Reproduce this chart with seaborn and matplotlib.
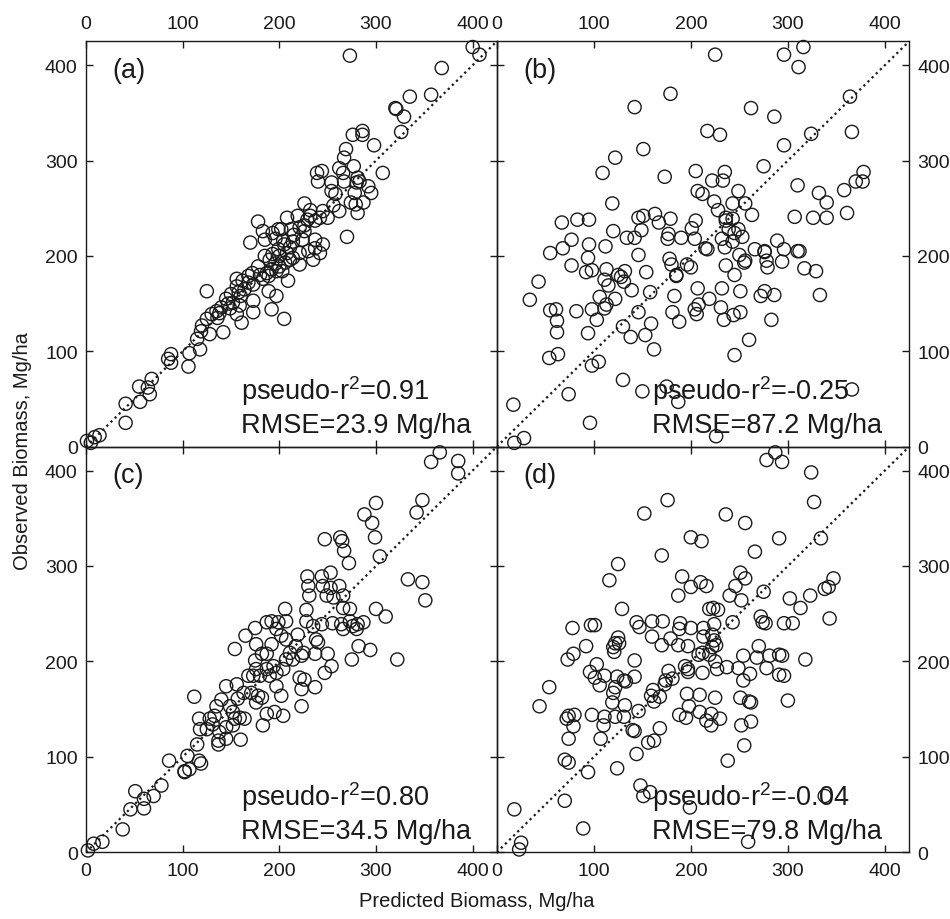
import pandas as pd
import matplotlib
matplotlib.use("Agg")
import matplotlib.pyplot as plt
import seaborn as sns

# ---- data: (predicted, observed) biomass in Mg/ha for four models ----
pts_a = [(400, 419), (407, 411), (273, 410), (368, 397), (357, 369), (335, 367), (320, 355),
         (321, 354), (329, 346), (326, 330), (286, 331), (276, 327), (286, 327), (298, 316),
         (269, 312), (267, 303), (277, 294), (307, 287), (239, 287), (244, 289), (240, 278),
         (266, 287), (267, 278), (254, 277), (254, 268), (281, 282), (280, 277), (283, 278),
         (292, 273), (295, 266), (278, 266), (274, 256), (279, 254), (287, 256), (281, 245),
         (262, 247), (256, 253), (270, 220), (250, 240), (242, 240), (229, 238), (226, 255),
         (219, 242), (232, 242), (237, 237), (208, 240), (221, 230), (212, 228), (199, 228),
         (193, 224), (178, 236), (183, 226), (185, 217), (170, 214), (196, 218), (204, 216),
         (214, 215), (224, 217), (237, 217), (211, 209), (199, 207), (193, 202), (200, 200),
         (208, 203), (221, 203), (237, 208), (242, 203), (235, 196), (221, 191), (211, 196),
         (206, 193), (200, 189), (197, 184), (192, 186), (187, 182), (183, 176), (189, 179),
         (203, 184), (209, 174), (178, 189), (172, 182), (168, 179), (162, 174), (156, 176),
         (173, 170), (164, 165), (156, 168), (150, 160), (158, 162), (145, 155), (152, 151),
         (159, 148), (149, 145), (140, 146), (135, 142), (130, 139), (125, 134), (136, 135),
         (156, 139), (161, 130), (173, 141), (173, 153), (189, 163), (197, 158), (192, 144),
         (205, 134), (125, 163), (120, 127), (119, 121), (128, 118), (142, 120), (115, 113),
         (118, 102), (107, 98), (106, 84), (88, 97), (85, 92), (88, 88), (68, 71), (55, 63),
         (64, 62), (66, 55), (56, 47), (41, 45), (41, 25), (14, 12), (9, 10), (1, 6), (5, 4),
         (205, 212), (215, 222), (226, 232), (190, 196), (180, 180), (196, 192), (214, 198),
         (226, 226), (245, 247), (232, 248), (160, 158), (147, 150), (138, 140), (168, 172),
         (185, 200), (202, 228), (230, 205), (245, 212), (258, 265), (262, 292)]

pts_b = [(225, 411), (296, 411), (316, 419), (311, 398), (179, 370), (364, 367), (142, 356),
         (262, 355), (286, 346), (217, 331), (230, 327), (324, 328), (366, 330), (151, 312),
         (296, 316), (122, 303), (109, 287), (173, 283), (205, 289), (275, 294), (235, 288),
         (222, 279), (233, 279), (378, 288), (370, 278), (377, 278), (310, 274), (207, 268),
         (212, 265), (249, 268), (332, 266), (358, 269), (340, 256), (224, 257), (243, 255),
         (256, 255), (119, 255), (228, 248), (263, 243), (307, 241), (326, 240), (340, 240),
         (361, 245), (236, 240), (243, 239), (236, 237), (146, 240), (151, 242), (163, 244),
         (167, 235), (179, 239), (205, 237), (201, 229), (67, 235), (83, 238), (95, 238),
         (120, 226), (149, 227), (134, 219), (142, 219), (177, 223), (176, 218), (190, 219),
         (204, 218), (232, 218), (243, 215), (253, 220), (249, 228), (239, 228), (245, 224),
         (235, 209), (217, 207), (215, 208), (77, 217), (68, 208), (55, 203), (95, 212),
         (112, 210), (146, 201), (94, 198), (77, 190), (92, 183), (98, 185), (113, 186),
         (125, 180), (132, 184), (128, 178), (131, 173), (111, 175), (115, 169), (139, 164),
         (154, 183), (178, 197), (180, 191), (185, 180), (185, 179), (196, 191), (200, 188),
         (250, 201), (255, 193), (256, 195), (236, 190), (245, 180), (266, 207), (276, 204),
         (276, 205), (289, 216), (296, 207), (310, 205), (312, 205), (278, 195), (279, 188),
         (294, 194), (317, 187), (329, 184), (43, 173), (34, 154), (55, 143), (61, 144),
         (62, 132), (62, 120), (54, 93), (63, 97), (82, 142), (98, 144), (103, 133), (94, 119),
         (106, 157), (111, 145), (113, 149), (122, 155), (146, 141), (130, 126), (138, 115),
         (153, 117), (159, 129), (162, 102), (158, 162), (183, 158), (181, 141), (188, 131),
         (207, 166), (208, 149), (204, 144), (206, 139), (219, 155), (232, 166), (231, 146),
         (234, 133), (244, 138), (251, 141), (251, 163), (272, 158), (276, 163), (286, 159),
         (283, 133), (245, 96), (260, 112), (333, 159), (98, 85), (105, 89), (130, 70), (74, 55),
         (17, 44), (150, 58), (175, 63), (187, 47), (366, 60), (96, 25), (28, 9), (18, 4),
         (226, 11)]

pts_c = [(366, 419), (357, 409), (385, 410), (385, 397), (348, 369), (342, 356), (300, 366),
         (288, 354), (296, 345), (299, 330), (304, 310), (247, 328), (263, 330), (265, 326),
         (267, 316), (272, 303), (333, 286), (348, 283), (351, 264), (300, 255), (310, 247),
         (322, 202), (294, 212), (282, 216), (275, 202), (229, 289), (230, 279), (231, 269),
         (228, 254), (244, 289), (253, 293), (245, 279), (253, 277), (249, 269), (256, 267),
         (262, 279), (266, 269), (266, 256), (273, 255), (264, 239), (266, 234), (273, 242),
         (276, 237), (281, 239), (287, 241), (280, 234), (255, 240), (244, 239), (235, 237),
         (228, 242), (238, 223), (240, 220), (237, 208), (250, 208), (254, 195), (247, 188),
         (237, 173), (223, 171), (223, 153), (226, 181), (221, 183), (223, 206), (225, 209),
         (217, 216), (219, 228), (207, 242), (206, 255), (199, 241), (192, 242), (187, 241),
         (197, 234), (202, 227), (207, 223), (211, 209), (214, 202), (207, 202), (204, 192),
         (197, 188), (194, 195), (187, 192), (190, 185), (180, 185), (176, 192), (173, 185),
         (168, 185), (175, 201), (182, 208), (187, 208), (192, 218), (176, 218), (165, 227),
         (175, 235), (154, 213), (197, 174), (202, 164), (204, 143), (195, 147), (187, 145),
         (183, 133), (182, 162), (176, 157), (178, 164), (171, 167), (163, 167), (156, 176),
         (157, 161), (164, 140), (159, 141), (152, 147), (145, 174), (149, 153), (152, 133),
         (145, 131), (138, 126), (140, 160), (135, 153), (133, 143), (128, 140), (125, 129),
         (118, 129), (131, 134), (137, 117), (137, 113), (145, 119), (160, 118), (154, 140),
         (112, 163), (117, 140), (115, 113), (117, 96), (119, 93), (105, 101), (102, 85),
         (107, 87), (102, 84), (86, 96), (78, 70), (70, 59), (60, 56), (51, 64), (60, 46),
         (46, 45), (38, 24), (17, 11), (8, 9), (2, 2)]

pts_d = [(278, 411), (287, 419), (294, 409), (324, 398), (327, 367), (176, 369), (152, 355),
         (236, 354), (256, 345), (334, 329), (200, 330), (211, 326), (291, 329), (266, 315),
         (170, 311), (125, 302), (116, 285), (191, 289), (200, 278), (210, 283), (216, 279),
         (187, 269), (251, 293), (256, 287), (246, 279), (240, 269), (252, 264), (275, 273),
         (347, 287), (342, 278), (338, 276), (323, 269), (302, 266), (313, 256), (343, 245),
         (296, 240), (305, 240), (272, 247), (274, 241), (277, 240), (129, 255), (219, 255),
         (223, 256), (228, 254), (243, 241), (224, 239), (213, 235), (200, 235), (188, 234),
         (189, 240), (171, 242), (160, 242), (144, 241), (147, 236), (160, 226), (179, 224),
         (170, 217), (187, 217), (197, 216), (213, 226), (222, 228), (224, 222), (226, 217),
         (222, 215), (212, 209), (208, 207), (219, 207), (225, 200), (78, 235), (97, 238),
         (101, 238), (92, 216), (79, 208), (73, 202), (125, 225), (122, 219), (126, 219),
         (120, 215), (121, 210), (142, 201), (103, 197), (96, 189), (101, 183), (111, 185),
         (106, 175), (124, 184), (131, 180), (133, 179), (142, 184), (122, 173), (120, 167),
         (119, 157), (132, 154), (54, 173), (44, 153), (177, 190), (174, 180), (181, 182),
         (194, 195), (197, 192), (197, 189), (212, 188), (227, 192), (237, 194), (249, 193),
         (254, 206), (261, 187), (254, 180), (270, 216), (268, 204), (278, 193), (281, 206),
         (291, 207), (294, 206), (291, 186), (296, 185), (318, 202), (300, 159), (161, 170),
         (159, 164), (168, 163), (162, 158), (173, 176), (146, 148), (142, 127), (131, 142),
         (111, 142), (110, 133), (107, 119), (122, 142), (98, 144), (72, 140), (74, 143),
         (80, 144), (79, 132), (74, 119), (70, 97), (74, 94), (94, 84), (124, 88), (144, 103),
         (140, 128), (168, 130), (156, 115), (162, 117), (188, 144), (195, 141), (196, 166),
         (198, 153), (209, 165), (225, 162), (209, 147), (216, 138), (221, 145), (221, 133),
         (230, 140), (251, 162), (260, 158), (262, 157), (252, 133), (262, 137), (255, 112),
         (238, 96), (148, 70), (151, 59), (158, 63), (199, 47), (338, 59), (70, 54), (18, 45),
         (89, 25), (25, 10), (23, 3), (259, 11)]

panel_tags = ["(a)", "(b)", "(c)", "(d)"]
pseudo_r2 = ["0.91", "-0.25", "0.80", "-0.04"]
rmse = ["23.9", "87.2", "34.5", "79.8"]
ticks = [0, 100, 200, 300, 400]

sns.set_theme(style="ticks")
plt.rcParams["font.family"] = ["Liberation Sans", "DejaVu Sans"]
plt.rcParams["mathtext.fontset"] = "custom"
plt.rcParams["mathtext.rm"] = "Liberation Sans"
plt.rcParams["mathtext.it"] = "Liberation Sans"
plt.rcParams["mathtext.default"] = "regular"
for key in ("text.color", "axes.labelcolor", "xtick.color", "ytick.color",
            "axes.edgecolor"):
    plt.rcParams[key] = "#1a1a1a"

fig = plt.figure(figsize=(9.5, 9.2), dpi=100)
left, mid, right = 0.0905, 0.523, 0.957
top, vmid, bottom = 0.954, 0.5134, 0.0725
boxes = [
    [left, vmid, mid - left, top - vmid],
    [mid, vmid, right - mid, top - vmid],
    [left, bottom, mid - left, vmid - bottom],
    [mid, bottom, right - mid, vmid - bottom],
]
panels = [pts_a, pts_b, pts_c, pts_d]
lim = 425

for i, (box, pts) in enumerate(zip(boxes, panels)):
    ax = fig.add_axes(box)
    ax.patch.set_alpha(0)
    df = pd.DataFrame(pts, columns=["pred", "obs"])
    # 1:1 reference line
    ax.plot([0, lim], [0, lim], ls=(0, (1, 1.6)), color="#1a1a1a", lw=1.6, zorder=1)
    sns.scatterplot(data=df, x="pred", y="obs", ax=ax, marker="o", s=90,
                    facecolors="none", edgecolor="#1a1a1a", linewidth=1.0, zorder=2,
                    clip_on=False)
    ax.set_xlim(0, lim)
    ax.set_ylim(0, lim)
    ax.set_xticks(ticks)
    ax.set_yticks(ticks)
    ax.set_xlabel("")
    ax.set_ylabel("")
    for s in ax.spines.values():
        s.set_linewidth(1.0)
    is_top = i < 2
    is_left = i % 2 == 0
    ax.tick_params(axis="both", which="both", direction="in", length=5, width=1.0,
                   top=True, bottom=True, left=True, right=True, labelsize=14)
    ax.tick_params(axis="x", labeltop=is_top, labelbottom=not is_top, pad=7)
    ax.tick_params(axis="y", labelleft=is_left, labelright=not is_left, pad=6)

    ax.text(27, 388, panel_tags[i], fontsize=19.5, ha="left", va="baseline")
    ax.text(160, 50, "pseudo-r$^{2}$=" + pseudo_r2[i], fontsize=19.5,
            ha="left", va="baseline")
    ax.text(160, 15.5, "RMSE=" + rmse[i] + " Mg/ha", fontsize=19.5,
            ha="left", va="baseline")

fig.text(0.502, 0.0141, "Predicted Biomass, Mg/ha", fontsize=14.5,
         ha="center", va="baseline")
fig.text(0.024, 0.51, "Observed Biomass, Mg/ha", fontsize=14.5,
         ha="center", va="center", rotation=90)

fig.savefig("out.png", dpi=100)
